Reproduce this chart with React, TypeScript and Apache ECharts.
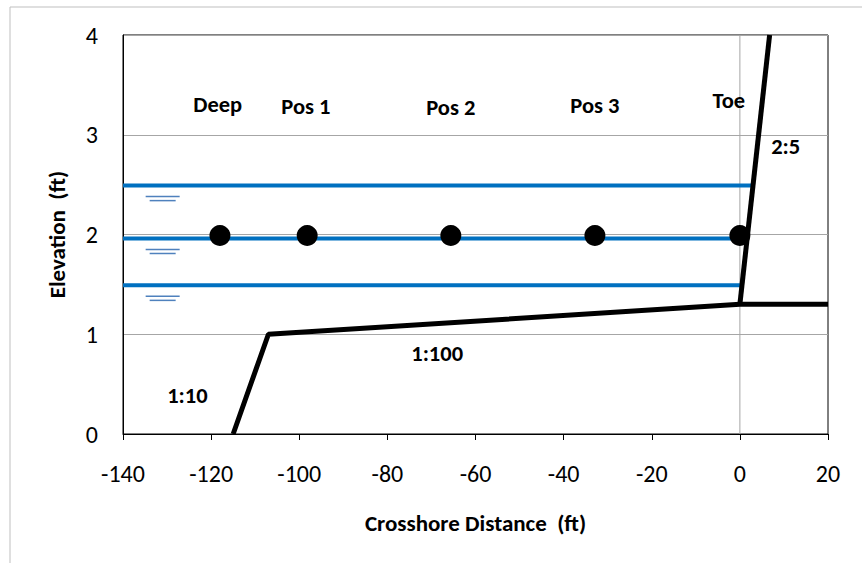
import React, { useEffect, useRef } from "react";
import * as echarts from "echarts";

const xTicks = [-140, 20, 20]; // min, max, interval
const yTicks = [0, 4, 1];
const profileLow: [number, number][] = [[-115, 0], [-107, 1.0], [0, 1.3], [20, 1.3]];
const profileSlope: [number, number][] = [[0, 1.3], [6.75, 4]];
const waterLevels = [2.49, 1.96, 1.49];
const waterEnds = [3.0, 1.65, 0.5];
const gaugeX = [-118, -98.2, -65.6, -32.9, 0];
const gaugeY = [1.99, 1.99, 1.99, 1.99, 1.99];
const symbolX = -131;
const labelTexts = ["Deep", "Pos 1", "Pos 2", "Pos 3", "Toe", "2:5", "1:100", "1:10"];
const labelX = [-118.5, -98.5, -65.6, -32.9, -2.5, 10.4, -68.7, -125.4];
const labelY = [3.3, 3.28, 3.27, 3.29, 3.34, 2.88, 0.81, 0.39];

const FONT = "Carlito, Calibri, 'Liberation Sans Narrow', 'Open Sans', sans-serif";

export default function App() {
  const ref = useRef<HTMLDivElement>(null);
  useEffect(() => {
    if (!ref.current) return;
    const chart = echarts.init(ref.current, null, { renderer: "svg" });
    const series: any[] = [];
    series.push({
      type: "line",
      data: [[0, yTicks[0]], [0, yTicks[1]]],
      showSymbol: false,
      lineStyle: { color: "#a6a6a6", width: 1 },
      z: 1,
      silent: true,
    });
    waterLevels.forEach((lv, i) => {
      series.push({
        type: "line",
        data: [[xTicks[0], lv], [waterEnds[i], lv]],
        showSymbol: false,
        lineStyle: { color: "#0070C0", width: 4 },
        z: 2,
      });
    });
    series.push({
      type: "custom",
      data: waterLevels.map((lv) => [symbolX, lv]),
      renderItem: (params: any, api: any) => {
        const p = api.coord([api.value(0), api.value(1)]);
        return {
          type: "group",
          children: [
            { type: "line", shape: { x1: p[0] - 17, y1: p[1] + 11, x2: p[0] + 17, y2: p[1] + 11 }, style: { stroke: "#4F81BD", lineWidth: 1.5 } },
            { type: "line", shape: { x1: p[0] - 13, y1: p[1] + 15, x2: p[0] + 13, y2: p[1] + 15 }, style: { stroke: "#4F81BD", lineWidth: 1.5 } },
          ],
        };
      },
      z: 2,
    });
    series.push({
      type: "line",
      data: profileLow,
      showSymbol: false,
      lineStyle: { color: "#000", width: 5 },
      z: 3,
    });
    series.push({
      type: "line",
      data: profileSlope,
      showSymbol: false,
      lineStyle: { color: "#000", width: 5 },
      z: 3,
    });
    series.push({
      type: "scatter",
      data: gaugeX.map((x, i) => [x, gaugeY[i]]),
      symbolSize: 21,
      itemStyle: { color: "#000", opacity: 1 },
      z: 4,
    });
    series.push({
      type: "scatter",
      data: labelTexts.map((t, i) => ({ value: [labelX[i], labelY[i]], name: t })),
      symbolSize: 1,
      itemStyle: { color: "rgba(0,0,0,0)", opacity: 1 },
      label: {
        show: true,
        position: "inside",
        formatter: (p: any) => p.name,
        color: "#000",
        fontFamily: FONT,
        fontWeight: "bold",
        fontSize: 22.5,
        textBorderWidth: 0,
      },
      z: 5,
    });

    chart.setOption({
      animation: false,
      backgroundColor: "#fff",
      grid: { left: 123, right: 34, top: 35, bottom: 129, show: true, borderColor: "#000", borderWidth: 1 },
      xAxis: {
        type: "value",
        min: xTicks[0],
        max: xTicks[1],
        interval: xTicks[2],
        name: "Crosshore Distance  (ft)",
        nameLocation: "middle",
        nameGap: 77,
        nameTextStyle: { fontFamily: FONT, fontWeight: "bold", fontSize: 23, color: "#000" },
        axisLine: { show: true, onZero: false, lineStyle: { color: "#000", width: 1 } },
        axisTick: { show: true, length: 6, lineStyle: { color: "#000" } },
        axisLabel: { margin: 27, fontFamily: FONT, fontSize: 24, color: "#000" },
        splitLine: { show: false },
      },
      yAxis: {
        type: "value",
        min: yTicks[0],
        max: yTicks[1],
        interval: yTicks[2],
        name: "Elevation  (ft)",
        nameLocation: "middle",
        nameGap: 55,
        nameTextStyle: { fontFamily: FONT, fontWeight: "bold", fontSize: 23, color: "#000" },
        axisLine: { show: true, onZero: false, lineStyle: { color: "#000", width: 1 } },
        axisTick: { show: false },
        axisLabel: { margin: 25, fontFamily: FONT, fontSize: 24, color: "#000" },
        splitLine: { show: true, lineStyle: { color: "#a6a6a6", width: 1 } },
      },
      graphic: [
        {
          type: "rect",
          shape: { x: 10, y: 7, width: 900, height: 600 },
          style: { fill: "none", stroke: "#bfbfbf", lineWidth: 1 },
          silent: true,
        },
      ],
      series,
    });
    return () => chart.dispose();
  }, []);
  return (
    <div
      ref={ref}
      style={{ position: "fixed", left: 0, top: 0, width: 862, height: 563, background: "#fff" }}
    />
  );
}
